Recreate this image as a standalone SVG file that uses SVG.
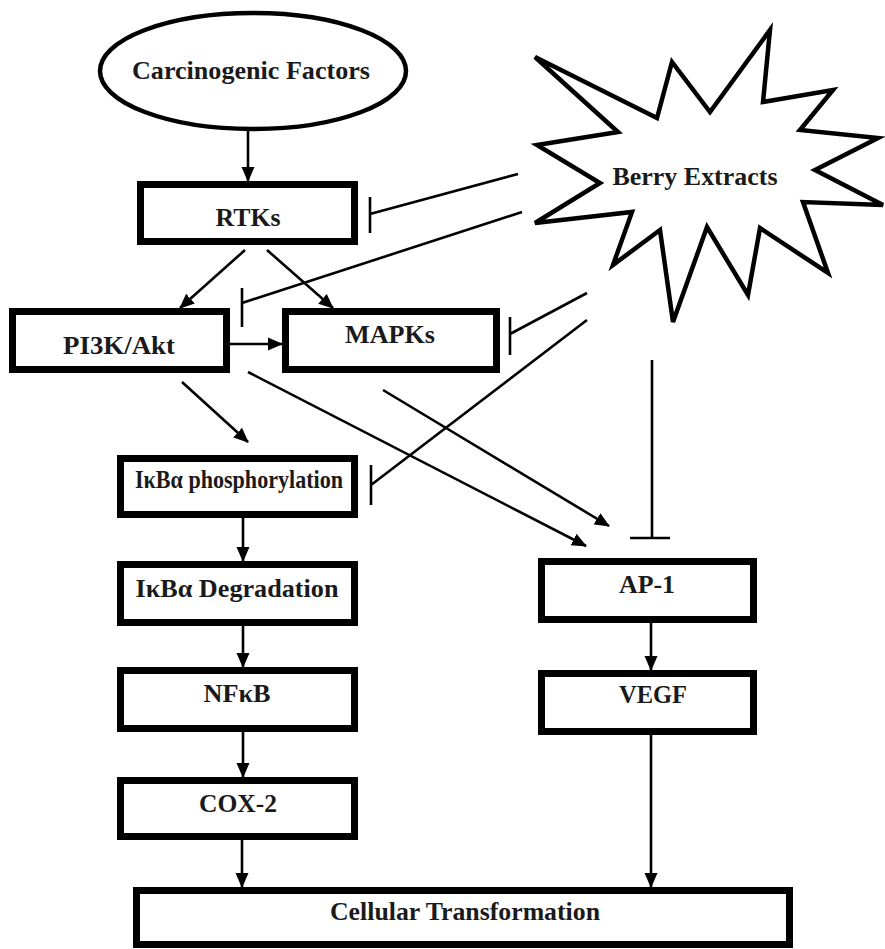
<svg xmlns="http://www.w3.org/2000/svg" width="885" height="949" viewBox="0 0 885 949">
<defs>
<marker id="arr" markerUnits="userSpaceOnUse" markerWidth="15" markerHeight="15" viewBox="0 0 15 15" refX="14" refY="7.5" orient="auto">
<path d="M0,1 L15,7.5 L0,14 Z" fill="#000"/>
</marker>
</defs>
<style>
.box{fill:#fff;stroke:#000;stroke-width:7}
.lbl{font-family:"Liberation Serif","Times New Roman",serif;font-weight:bold;font-size:24.5px;fill:#1a1a1a;text-anchor:middle}
.act{fill:none;stroke:#000;stroke-width:2.6;marker-end:url(#arr)}
.inh{fill:none;stroke:#000;stroke-width:2.6}
</style>
<rect width="885" height="949" fill="#fff"/>
<g id="connectors">
<line class="act" x1="248" y1="131" x2="248" y2="181"/>
<line class="act" x1="245" y1="250" x2="180" y2="308"/>
<line class="act" x1="267" y1="250" x2="333" y2="308"/>
<line class="act" x1="230" y1="344" x2="282" y2="344"/>
<line class="act" x1="182" y1="382" x2="248" y2="442"/>
<line class="act" x1="248" y1="372" x2="586" y2="546"/>
<line class="act" x1="383" y1="390" x2="609" y2="526"/>
<line class="act" x1="243" y1="518" x2="243" y2="561"/>
<line class="act" x1="243" y1="626" x2="243" y2="667"/>
<line class="act" x1="243" y1="732" x2="243" y2="777"/>
<line class="act" x1="242" y1="840" x2="242" y2="887"/>
<line class="act" x1="651" y1="623" x2="651" y2="670"/>
<line class="act" x1="651" y1="735" x2="651" y2="887"/>
<path class="inh" d="M518,174 L370,214 M370,197 L370,233"/>
<path class="inh" d="M522,212 L242,303 M242,288 L242,327"/>
<path class="inh" d="M587,293 L510,334 M510,317 L510,355"/>
<path class="inh" d="M587,320 L371,485 M371,465 L371,505"/>
<path class="inh" d="M652,360 L652,538 M630,538 L670,538"/>
</g>
<g id="carcinogenic">
<ellipse cx="253" cy="71" rx="153" ry="58" fill="#fff" stroke="#000" stroke-width="4.5"/>
<text class="lbl" x="251" y="79" textLength="238" lengthAdjust="spacingAndGlyphs">Carcinogenic Factors</text>
</g>
<g id="berry">
<polygon points="535,57 657,118 672,62 710,112 770,30 763,102 833,90 800,130 878,138 815,170 883,205 803,202 828,273 760,228 748,295 707,227 673,322 660,230 613,265 632,212 535,223 600,183 537,145 618,132" fill="#fff" stroke="#000" stroke-width="4.5" stroke-linejoin="miter"/>
<text class="lbl" x="695" y="185" textLength="165" lengthAdjust="spacingAndGlyphs">Berry Extracts</text>
</g>
<g id="rtks">
<rect class="box" x="140.5" y="184.5" width="214" height="57"/>
<text class="lbl" x="248" y="226" textLength="65" lengthAdjust="spacingAndGlyphs">RTKs</text>
</g>
<g id="pi3k">
<rect class="box" x="12.5" y="311.5" width="214" height="58"/>
<text class="lbl" x="119" y="354" textLength="112" lengthAdjust="spacingAndGlyphs">PI3K/Akt</text>
</g>
<g id="mapks">
<rect class="box" x="285.5" y="311.5" width="211" height="58"/>
<text class="lbl" x="390" y="343" textLength="90" lengthAdjust="spacingAndGlyphs">MAPKs</text>
</g>
<g id="ikba-phos">
<rect class="box" x="120.5" y="458.5" width="234" height="56"/>
<text class="lbl" x="239" y="488" textLength="208" lengthAdjust="spacingAndGlyphs">IκBα phosphorylation</text>
</g>
<g id="ikba-deg">
<rect class="box" x="120.5" y="564.5" width="234" height="58"/>
<text class="lbl" x="237" y="597" textLength="203" lengthAdjust="spacingAndGlyphs">IκBα Degradation</text>
</g>
<g id="nfkb">
<rect class="box" x="120.5" y="670.5" width="234" height="58"/>
<text class="lbl" x="237" y="702" textLength="67" lengthAdjust="spacingAndGlyphs">NFκB</text>
</g>
<g id="cox2">
<rect class="box" x="120.5" y="780.5" width="234" height="56"/>
<text class="lbl" x="238" y="812" textLength="78" lengthAdjust="spacingAndGlyphs">COX-2</text>
</g>
<g id="ap1">
<rect class="box" x="541.5" y="561.5" width="212" height="58"/>
<text class="lbl" x="647" y="593" textLength="56" lengthAdjust="spacingAndGlyphs">AP-1</text>
</g>
<g id="vegf">
<rect class="box" x="541.5" y="673.5" width="212" height="58"/>
<text class="lbl" x="653" y="703" textLength="68" lengthAdjust="spacingAndGlyphs">VEGF</text>
</g>
<g id="cellular">
<rect class="box" x="136.5" y="890.5" width="653" height="54"/>
<text class="lbl" x="465" y="920" textLength="270" lengthAdjust="spacingAndGlyphs">Cellular Transformation</text>
</g>
</svg>
